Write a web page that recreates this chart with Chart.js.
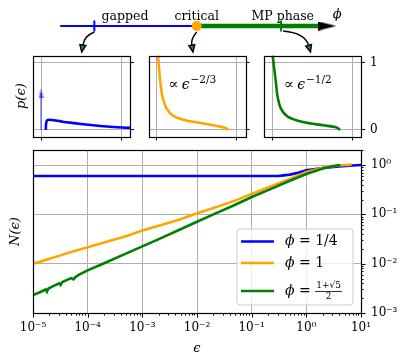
<!DOCTYPE html>
<html>
<head>
<meta charset="utf-8">
<style>
  body{margin:0;background:#fff;}
  #wrap{position:relative;width:415px;height:360px;}
  #wrap canvas{position:absolute;left:0;top:0;}
</style>
</head>
<body>
<div id="wrap">
  <canvas id="main" width="415" height="360"></canvas>
  <canvas id="in1" width="415" height="360"></canvas>
  <canvas id="in2" width="415" height="360"></canvas>
  <canvas id="in3" width="415" height="360"></canvas>
  <canvas id="phase" width="415" height="360"></canvas>
</div>
<script src="https://cdn.jsdelivr.net/npm/chart.js@4.4.0/dist/chart.umd.min.js"></script>
<script>
var SERIF = '"DejaVu Serif", "Liberation Serif", serif';

// top strip: phase axis
var gappedPhi = [0, 1];
var mpPhi = [1, 1.9];
var phiGapped = 0.25, phiCritical = 1, phiMP = 1.618, phiArrow = 1.957;
var phaseLabels = ['gapped', 'critical', 'MP phase'];
var phaseLabelPhi = [0.475, 1.0, 1.63];

// insets p(eps)
var gapX = [0.06, 0.062, 0.07, 0.085, 0.11, 0.16, 0.25, 0.32, 0.5, 0.74, 0.9, 1.12];
var gapP = [0.0, 0.08, 0.13, 0.148, 0.152, 0.145, 0.128, 0.114, 0.09, 0.06, 0.045, 0.03];
var deltaX = [0, 0];
var deltaP = [0, 0.55];
var critX = [0.017, 0.02, 0.033, 0.05, 0.075, 0.125, 0.21, 0.375, 0.625, 0.79, 0.86, 0.9];
var critP = [1.25, 1.1, 0.89, 0.69, 0.49, 0.32, 0.21, 0.14, 0.09, 0.05, 0.03, 0.0];
var mpX = [0.008, 0.01, 0.03, 0.05, 0.07, 0.11, 0.195, 0.385, 0.64, 0.8, 0.85];
var mpP = [1.25, 1.1, 0.89, 0.69, 0.49, 0.32, 0.2, 0.12, 0.07, 0.04, 0.0];
var insetTicks = [0, 1];

// main panel N(eps)
var blueEps = [1e-5, 1e-3, 0.1, 0.3, 0.35, 0.5, 0.7, 1, 2, 4, 7, 10];
var blueN   = [0.6, 0.6, 0.6, 0.6, 0.61, 0.64, 0.7, 0.78, 0.87, 0.94, 0.98, 1.0];
var orangeEps = [1e-5, 1.5e-5, 2e-5, 3e-5, 5e-5, 1e-4, 2e-4, 5e-4, 1e-3, 2e-3, 5e-3, 1e-2, 2e-2, 5e-2, 0.1, 0.2, 0.5, 1, 2, 3, 4.5, 6.7];
var orangeN   = [0.0100, 0.0114, 0.0126, 0.0144, 0.0172, 0.0216, 0.027, 0.036, 0.047, 0.059, 0.080, 0.105, 0.135, 0.19, 0.26, 0.35, 0.52, 0.72, 0.88, 0.95, 0.99, 1.02];
var greenEps = [1e-5, 1.3e-5, 1.7e-5, 1.8e-5, 1.9e-5, 2.2e-5, 3e-5, 3.2e-5, 3.4e-5, 4e-5, 5e-5, 5.5e-5, 6e-5, 7e-5, 1e-4, 2e-4, 5e-4, 1e-3, 2e-3, 5e-3, 1e-2, 2e-2, 5e-2, 0.1, 0.2, 0.5, 1, 2, 3, 4.2];
var greenN   = [0.0023, 0.0026, 0.0030, 0.0027, 0.0031, 0.0034, 0.0040, 0.0037, 0.0042, 0.0046, 0.0051, 0.0048, 0.0054, 0.0060, 0.0073, 0.0102, 0.016, 0.0224, 0.0315, 0.050, 0.071, 0.10, 0.157, 0.225, 0.31, 0.48, 0.66, 0.85, 0.95, 1.0];
var seriesLabels = ['1/4', '1', '(1+√5)/2'];
var epsRange = [1e-5, 10];
var nRange = [1e-3, 2.02];

function xy(xs, ys) {
  return xs.map(function(x, i){ return {x: x, y: ys[i]}; });
}
var sup = {'-':'⁻','0':'⁰','1':'¹','2':'²','3':'³','4':'⁴','5':'⁵','6':'⁶','7':'⁷','8':'⁸','9':'⁹'};
function isPow10(v) {
  var l = Math.log10(v);
  return Math.abs(l - Math.round(l)) < 1e-6;
}
function powLabel(v) {
  if (!isPow10(v)) return '';
  return '10' + String(Math.round(Math.log10(v))).split('').map(function(c){ return sup[c]; }).join('');
}
function logTicks(lo, hi, top) {
  var t = [];
  for (var e = lo; e <= hi; e++) {
    for (var m = 1; m <= 9; m++) {
      var v = m * Math.pow(10, e);
      if (v <= top * 1.000001) t.push({value: v, major: m === 1});
    }
  }
  return t;
}

var frame = {
  id: 'frame',
  afterDraw: function(chart) {
    var a = chart.chartArea, c = chart.ctx;
    c.save();
    c.strokeStyle = '#000';
    c.lineWidth = 1.2;
    c.strokeRect(Math.round(a.left) + 0.5, Math.round(a.top) + 0.5, Math.round(a.right - a.left), Math.round(a.bottom - a.top));
    c.restore();
  }
};

var logTickMarks = {
  id: 'logTickMarks',
  afterDraw: function(chart) {
    var c = chart.ctx, a = chart.chartArea, sx = chart.scales.x, sy = chart.scales.y;
    c.save();
    c.strokeStyle = '#000';
    c.lineWidth = 1;
    sx.ticks.forEach(function(t) {
      var p = Math.round(sx.getPixelForValue(t.value)) + 0.5;
      c.beginPath(); c.moveTo(p, a.bottom); c.lineTo(p, a.bottom + (t.major ? 4.5 : 2.5)); c.stroke();
    });
    sy.ticks.forEach(function(t) {
      var p = Math.round(sy.getPixelForValue(t.value)) + 0.5;
      c.beginPath(); c.moveTo(a.right, p); c.lineTo(a.right + (t.major ? 4.5 : 2.5), p); c.stroke();
    });
    c.restore();
  }
};

function phiLabel(c, x, y, size) {
  c.font = 'italic ' + size + 'px ' + SERIF;
  c.fillText('ϕ', x, y);
  x += c.measureText('ϕ').width;
  c.font = size + 'px ' + SERIF;
  c.fillText(' = ', x, y);
  return x + c.measureText(' = ').width;
}

var legendBox = {
  id: 'legendBox',
  afterDraw: function(chart) {
    var c = chart.ctx, a = chart.chartArea;
    var x0 = a.right - 124, y0 = a.bottom - 84, w = 116, h = 76, r = 3;
    c.save();
    c.beginPath();
    c.moveTo(x0 + r, y0); c.lineTo(x0 + w - r, y0); c.quadraticCurveTo(x0 + w, y0, x0 + w, y0 + r);
    c.lineTo(x0 + w, y0 + h - r); c.quadraticCurveTo(x0 + w, y0 + h, x0 + w - r, y0 + h);
    c.lineTo(x0 + r, y0 + h); c.quadraticCurveTo(x0, y0 + h, x0, y0 + h - r);
    c.lineTo(x0, y0 + r); c.quadraticCurveTo(x0, y0, x0 + r, y0);
    c.closePath();
    c.fillStyle = 'rgba(255,255,255,0.8)';
    c.fill();
    c.strokeStyle = '#cccccc';
    c.lineWidth = 1;
    c.stroke();
    var rows = [12.5, 34, 62];
    chart.data.datasets.forEach(function(ds, i) {
      var y = y0 + rows[i];
      c.strokeStyle = ds.borderColor;
      c.lineWidth = 2.5;
      c.beginPath(); c.moveTo(x0 + 4, y); c.lineTo(x0 + 37, y); c.stroke();
      c.fillStyle = '#000';
      c.textBaseline = 'middle';
      c.textAlign = 'left';
      var x = phiLabel(c, x0 + 48, y, 14);
      if (i < 2) {
        c.font = '14px ' + SERIF;
        c.fillText(seriesLabels[i], x, y);
      } else {
        c.font = '9px ' + SERIF;
        c.textAlign = 'center';
        var parts = seriesLabels[i].replace('(', '').split(')/');
        var nw = c.measureText(parts[0]).width;
        c.fillText(parts[0], x + nw / 2 + 1, y - 5);
        c.fillText(parts[1], x + nw / 2 + 1, y + 6);
        c.lineWidth = 0.8;
        c.strokeStyle = '#000';
        c.beginPath(); c.moveTo(x, y + 0.5); c.lineTo(x + nw + 2, y + 0.5); c.stroke();
      }
    });
    c.restore();
  }
};

var tickFont = {family: SERIF, size: 12};

new Chart(document.getElementById('main'), {
  type: 'line',
  data: {
    datasets: [
      {label: 'ϕ = ' + seriesLabels[0], data: xy(blueEps, blueN), borderColor: '#0000ff', order: 3},
      {label: 'ϕ = ' + seriesLabels[1], data: xy(orangeEps, orangeN), borderColor: '#ffa500', order: 2},
      {label: 'ϕ = ' + seriesLabels[2], data: xy(greenEps, greenN), borderColor: '#008000', order: 1}
    ]
  },
  options: {
    responsive: false,
    animation: false,
    devicePixelRatio: 1,
    layout: {padding: {left: 0, top: 150, right: 0, bottom: 0}},
    elements: {
      line: {borderWidth: 2.6, tension: 0, fill: false},
      point: {radius: 0}
    },
    plugins: {legend: {display: false}, tooltip: {enabled: false}},
    scales: {
      x: {
        type: 'logarithmic', position: 'bottom', min: epsRange[0], max: epsRange[1],
        afterBuildTicks: function(s) { s.ticks = logTicks(-5, 1, epsRange[1]); },
        afterFit: function(s) { s.height = 47; },
        ticks: {autoSkip: false, maxRotation: 0, padding: 8, font: tickFont, color: '#000',
                callback: function(v) { return powLabel(v); }},
        grid: {drawTicks: false, lineWidth: 1,
               color: function(c) { return c.tick && isPow10(c.tick.value) ? '#b0b0b0' : 'rgba(0,0,0,0)'; }},
        border: {display: false},
        title: {display: true, text: 'ϵ', color: '#000', font: {family: SERIF, size: 13, style: 'italic'}, padding: {top: 0, bottom: 4}}
      },
      y: {
        type: 'logarithmic', position: 'right', min: nRange[0], max: nRange[1],
        afterBuildTicks: function(s) { s.ticks = logTicks(-3, 0, nRange[1]); },
        afterFit: function(s) { s.width = 54; },
        ticks: {autoSkip: false, padding: 10, font: tickFont, color: '#000',
                callback: function(v) { return powLabel(v); }},
        grid: {drawTicks: false, lineWidth: 1,
               color: function(c) { return c.tick && isPow10(c.tick.value) ? '#b0b0b0' : 'rgba(0,0,0,0)'; }},
        border: {display: false}
      },
      yl: {
        type: 'linear', position: 'left',
        afterFit: function(s) { s.width = 33; },
        ticks: {display: false},
        grid: {display: false},
        border: {display: false},
        title: {display: true, text: 'N(ϵ)', color: '#000', font: {family: SERIF, size: 13, style: 'italic'}, padding: {top: 8, bottom: 0}}
      }
    }
  },
  plugins: [frame, logTickMarks, legendBox]
});

function powerText(text) {
  return {
    id: 'powerText',
    afterDraw: function(chart) {
      if (!text) return;
      var c = chart.ctx, a = chart.chartArea;
      var x = a.left + 20, y = 89;
      c.save();
      c.fillStyle = '#000';
      c.textBaseline = 'alphabetic';
      c.font = '15px ' + SERIF;
      c.fillText('∝', x, y);
      x += c.measureText('∝').width + 3;
      c.font = 'italic 14px ' + SERIF;
      c.fillText('ϵ', x, y);
      x += c.measureText('ϵ').width + 1;
      c.font = '10.5px ' + SERIF;
      c.fillText(text, x, y - 6);
      c.restore();
    }
  };
}

function makeInset(id, left, datasets, opts) {
  var yw = opts.labels ? 24 : 6;
  var lw = opts.title ? left : 0;
  var grid = {color: '#b0b0b0', lineWidth: 1, drawTicks: true, tickLength: 4, tickColor: '#000', tickWidth: 1};
  var scales = {
    x: {
      type: 'linear', min: -0.1, max: 1.11,
      afterBuildTicks: function(s) { s.ticks = insetTicks.map(function(v){ return {value: v}; }); },
      afterFit: function(s) { s.height = 4; },
      ticks: {display: false},
      grid: grid,
      border: {display: false}
    },
    y: {
      type: 'linear', position: 'right', min: -0.097, max: 1.104,
      afterBuildTicks: function(s) { s.ticks = insetTicks.map(function(v){ return {value: v}; }); },
      afterFit: function(s) { s.width = yw; },
      ticks: {display: !!opts.labels, padding: 5, font: {family: SERIF, size: 12}, color: '#000'},
      grid: grid,
      border: {display: false}
    }
  };
  if (opts.title) {
    scales.yl = {
      type: 'linear', position: 'left',
      afterFit: function(s) { s.width = lw; },
      ticks: {display: false},
      grid: {display: false},
      border: {display: false},
      title: {display: true, text: 'p(ϵ)', color: '#000', font: {family: SERIF, size: 13, style: 'italic'}, padding: {top: 14, bottom: 0}}
    };
  }
  new Chart(document.getElementById(id), {
    type: 'line',
    data: {datasets: datasets},
    options: {
      responsive: false,
      animation: false,
      devicePixelRatio: 1,
      layout: {padding: {left: left - lw, top: 55.7, right: 415 - (left + 97) - yw, bottom: 360 - 136.5 - 4}},
      elements: {line: {borderWidth: 2.6, tension: 0.3, fill: false}, point: {radius: 0}},
      plugins: {legend: {display: false}, tooltip: {enabled: false}},
      scales: scales
    },
    plugins: [frame, powerText(opts.power)]
  });
}

function headCanvas(w, h, color) {
  var cv = document.createElement('canvas');
  cv.width = w; cv.height = h;
  var c = cv.getContext('2d');
  c.fillStyle = color;
  c.beginPath(); c.moveTo(w / 2, 0); c.lineTo(w, h); c.lineTo(0, h); c.closePath(); c.fill();
  return cv;
}

makeInset('in1', 33, [
  {data: xy(deltaX, deltaP), borderColor: 'rgba(0,0,255,0.5)', borderWidth: 1.5, tension: 0,
   pointRadius: [0, 5], pointStyle: headCanvas(5, 10, 'rgba(0,0,255,0.55)'), clip: false},
  {data: xy(gapX, gapP), borderColor: '#0000ff', borderWidth: 2.6, tension: 0.2}
], {title: true});
makeInset('in2', 148.5, [
  {data: xy(critX, critP), borderColor: '#ffa500'}
], {power: '−2/3'});
makeInset('in3', 264, [
  {data: xy(mpX, mpP), borderColor: '#008000'}
], {power: '−1/2', labels: true});

function curvedArrow(c, x0, y0, cx, cy, x1, y1) {
  var ang = Math.atan2(y1 - cy, x1 - cx);
  var L = 7, W = 3;
  var bx = x1 - L * Math.cos(ang), by = y1 - L * Math.sin(ang);
  c.beginPath(); c.moveTo(x0, y0); c.quadraticCurveTo(cx, cy, bx, by); c.stroke();
  c.beginPath(); c.moveTo(x1, y1);
  c.lineTo(bx + W * Math.sin(ang), by - W * Math.cos(ang));
  c.lineTo(bx - W * Math.sin(ang), by + W * Math.cos(ang));
  c.closePath();
  c.fill(); c.stroke();
}

var phaseText = {
  id: 'phaseText',
  afterDraw: function(chart) {
    var c = chart.ctx, sx = chart.scales.x, sy = chart.scales.y;
    var y0 = sy.getPixelForValue(0);
    c.save();
    c.fillStyle = '#000';
    c.textAlign = 'center';
    c.textBaseline = 'alphabetic';
    c.font = '12.5px ' + SERIF;
    phaseLabels.forEach(function(t, i) {
      c.fillText(t, sx.getPixelForValue(phaseLabelPhi[i]), y0 - 6.5);
    });
    c.font = 'italic 13px ' + SERIF;
    c.fillText('ϕ', sx.getPixelForValue(2.03), y0 - 8.5);
    c.strokeStyle = '#000';
    c.fillStyle = '#1f77b4';
    c.lineWidth = 1.4;
    var xg = sx.getPixelForValue(phiGapped), xc = sx.getPixelForValue(phiCritical), xm = sx.getPixelForValue(phiMP);
    curvedArrow(c, xg, y0 + 6, xg - 10, y0 + 10, 81.7, 52);
    curvedArrow(c, xc, y0 + 6, xc - 6, y0 + 13, 193, 52);
    curvedArrow(c, xm + 2, y0 + 5, xm + 24, y0 + 7, 310.5, 52);
    c.restore();
  }
};

new Chart(document.getElementById('phase'), {
  type: 'line',
  data: {
    datasets: [
      {data: xy(gappedPhi, [0, 0]), borderColor: '#0000ff', borderWidth: 2},
      {data: xy(mpPhi, [0, 0]), borderColor: '#008000', borderWidth: 4.5},
      {data: xy([phiGapped, phiGapped], [-0.55, 0.55]), borderColor: '#0000ff', borderWidth: 2},
      {data: xy([phiMP, phiMP], [-0.55, 0.55]), borderColor: '#008000', borderWidth: 2},
      {data: [{x: phiCritical, y: 0}], showLine: false, pointRadius: 5, pointBackgroundColor: '#ffa500', pointBorderWidth: 0, order: -1},
      {data: [{x: phiArrow, y: 0}], showLine: false, pointRadius: 9, pointStyle: headCanvas(9, 18, '#000'), pointRotation: 90, order: -1}
    ]
  },
  options: {
    responsive: false,
    animation: false,
    devicePixelRatio: 1,
    layout: {padding: {left: 60.2, right: 68.15, top: 16, bottom: 324}},
    elements: {line: {tension: 0, fill: false}, point: {radius: 0}},
    datasets: {line: {clip: false}},
    plugins: {legend: {display: false}, tooltip: {enabled: false}},
    scales: {
      x: {type: 'linear', min: 0, max: 2.1, display: false},
      y: {type: 'linear', min: -1, max: 1, display: false}
    }
  },
  plugins: [phaseText]
});
</script>
</body>
</html>
